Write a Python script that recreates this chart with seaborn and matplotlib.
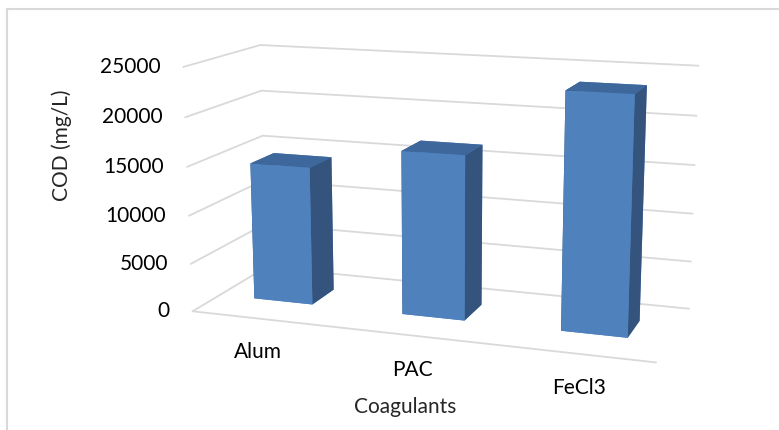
import numpy as np
import matplotlib
matplotlib.use("Agg")
import matplotlib.pyplot as plt
import seaborn as sns
from matplotlib.lines import Line2D
from mpl_toolkits.mplot3d import proj3d

# ---- data ----
categories = ["Alum", "PAC", "FeCl3"]
cod_values = [14400, 16800, 23700]
value_ticks = [0, 5000, 10000, 15000, 20000, 25000]
x_title = "Coagulants"
y_title = "COD (mg/L)"

sns.set_theme(style="white")
plt.rcParams['font.family'] = ['Lato', 'DejaVu Sans']

front_col = "#4F81BD"
top_col = "#3E689C"
side_col = "#34547E"
grid_col = "#D9D9D9"

fig = plt.figure(figsize=(7.79, 4.30), dpi=100)
W, H = 779, 430
side = 560
cx, cy = 434, 430 - 198
ax = fig.add_axes([(cx - side / 2) / W, (cy - side / 2) / H, side / W, side / H],
                  projection='3d')
ax.set_axis_off()
ax.computed_zorder = False
ax.set_proj_type('persp', focal_length=0.5)
ax.view_init(elev=13, azim=-71)

n = len(categories)
xmin, xmax = -0.44, n - 0.56
ymin, ymax = 0.0, 1.05
zmax = value_ticks[-1]
ax.set_xlim(xmin, xmax)
ax.set_ylim(ymin, ymax)
ax.set_zlim(0, zmax)
ax.set_box_aspect((3.08, 1.12, 1.62), zoom=0.978)

# walls gridlines
for t in value_ticks:
    ax.plot([xmin, xmax], [ymax, ymax], [t, t], color=grid_col, lw=1.3, zorder=1, clip_on=False)
    ax.plot([xmin, xmin], [ymin, ymax], [t, t], color=grid_col, lw=1.3, zorder=1, clip_on=False)
# floor front edge
ax.plot([xmin, xmax], [ymin, ymin], [0, 0], color=grid_col, lw=1.3, zorder=1, clip_on=False)

# bars
bw, bd = 0.4, 0.34
xs = np.arange(n) - bw / 2
ys = np.full(n, 0.37)
zs = np.zeros(n)
colors = []
for _ in range(n):
    colors += [front_col, top_col, front_col, front_col, side_col, side_col]
bars = ax.bar3d(xs, ys, zs, bw, bd, cod_values, color=colors, shade=False,
                edgecolor='none', zorder=2)
bars.set_clip_on(False)

# place texts at projected 3D anchor points
fig.canvas.draw()
M = ax.get_proj()


def to_fig(x, y, z):
    px, py, _ = proj3d.proj_transform(x, y, z, M)
    disp = ax.transData.transform((px, py))
    return fig.transFigure.inverted().transform(disp)


for t in value_ticks:
    fx, fy = to_fig(xmin, ymin, t)
    fig.text(fx - 23 / W, fy, f"{t}", ha='right', va='center', fontsize=15, color='black')

for i, c in enumerate(categories):
    fx, fy = to_fig(i, ymin, 0)
    fig.text(fx, fy - 34 / H, c, ha='center', va='center', fontsize=15, color='black')

fig.text(62 / W, 1 - 145 / H, y_title, rotation=90, ha='center', va='center', fontsize=15)
fig.text(405 / W, 1 - 407 / H, x_title, ha='center', va='center', fontsize=15)

# chart frame
fig.add_artist(Line2D([6.7 / W, 1.0], [1 - 9.3 / H, 1 - 9.3 / H], color=grid_col, lw=1.5))
fig.add_artist(Line2D([6.7 / W, 6.7 / W], [1 - 9.3 / H, 0], color=grid_col, lw=1.5))

fig.savefig("out.png", dpi=100)
